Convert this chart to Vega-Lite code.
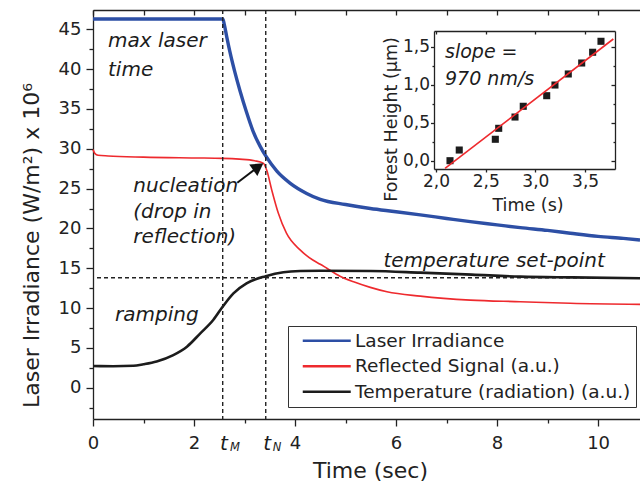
{
  "$schema": "https://vega.github.io/schema/vega-lite/v6.json",
  "width": 547,
  "height": 409,
  "autosize": {"type": "none"},
  "padding": {"left": 93, "top": 10, "right": 0, "bottom": 66},
  "background": "white",
  "config": {
    "font": "DejaVu Sans",
    "view": {"stroke": null},
    "axis": {
      "grid": false,
      "domainColor": "#222",
      "tickColor": "#222",
      "labelColor": "#222",
      "titleColor": "#222",
      "domainWidth": 1.3,
      "tickWidth": 1.3,
      "titleFontWeight": "normal",
      "labelFlush": false,
      "labelOverlap": false,
      "labelFont": "DejaVu Sans",
      "titleFont": "DejaVu Sans"
    },
    "text": {"font": "DejaVu Sans"}
  },
  "datasets": {
    "series": [
      {"t": 0, "v": 29.9, "s": "Reflected Signal (a.u.)"},
      {"t": 0.04, "v": 29.4, "s": "Reflected Signal (a.u.)"},
      {"t": 0.1, "v": 29.2, "s": "Reflected Signal (a.u.)"},
      {"t": 0.3, "v": 29.1, "s": "Reflected Signal (a.u.)"},
      {"t": 1.0, "v": 28.95, "s": "Reflected Signal (a.u.)"},
      {"t": 2.0, "v": 28.85, "s": "Reflected Signal (a.u.)"},
      {"t": 2.57, "v": 28.8, "s": "Reflected Signal (a.u.)"},
      {"t": 2.9, "v": 28.7, "s": "Reflected Signal (a.u.)"},
      {"t": 3.2, "v": 28.5, "s": "Reflected Signal (a.u.)"},
      {"t": 3.37, "v": 28.2, "s": "Reflected Signal (a.u.)"},
      {"t": 3.44, "v": 27.3, "s": "Reflected Signal (a.u.)"},
      {"t": 3.54, "v": 24.8, "s": "Reflected Signal (a.u.)"},
      {"t": 3.67, "v": 21.9, "s": "Reflected Signal (a.u.)"},
      {"t": 3.83, "v": 19.4, "s": "Reflected Signal (a.u.)"},
      {"t": 4.1, "v": 17.3, "s": "Reflected Signal (a.u.)"},
      {"t": 4.36, "v": 16.0, "s": "Reflected Signal (a.u.)"},
      {"t": 4.5, "v": 15.5, "s": "Reflected Signal (a.u.)"},
      {"t": 4.63, "v": 15.0, "s": "Reflected Signal (a.u.)"},
      {"t": 4.89, "v": 14.0, "s": "Reflected Signal (a.u.)"},
      {"t": 5.16, "v": 13.3, "s": "Reflected Signal (a.u.)"},
      {"t": 5.49, "v": 12.6, "s": "Reflected Signal (a.u.)"},
      {"t": 5.82, "v": 12.05, "s": "Reflected Signal (a.u.)"},
      {"t": 6.48, "v": 11.5, "s": "Reflected Signal (a.u.)"},
      {"t": 7.47, "v": 11.0, "s": "Reflected Signal (a.u.)"},
      {"t": 8.46, "v": 10.8, "s": "Reflected Signal (a.u.)"},
      {"t": 9.45, "v": 10.6, "s": "Reflected Signal (a.u.)"},
      {"t": 10.83, "v": 10.47, "s": "Reflected Signal (a.u.)"},
      {"t": 0, "v": 2.72, "s": "Temperature (radiation) (a.u.)"},
      {"t": 0.4, "v": 2.7, "s": "Temperature (radiation) (a.u.)"},
      {"t": 0.8, "v": 2.75, "s": "Temperature (radiation) (a.u.)"},
      {"t": 1.0, "v": 2.95, "s": "Temperature (radiation) (a.u.)"},
      {"t": 1.26, "v": 3.3, "s": "Temperature (radiation) (a.u.)"},
      {"t": 1.59, "v": 4.1, "s": "Temperature (radiation) (a.u.)"},
      {"t": 1.86, "v": 5.15, "s": "Temperature (radiation) (a.u.)"},
      {"t": 2.12, "v": 6.8, "s": "Temperature (radiation) (a.u.)"},
      {"t": 2.38, "v": 8.5, "s": "Temperature (radiation) (a.u.)"},
      {"t": 2.57, "v": 10.2, "s": "Temperature (radiation) (a.u.)"},
      {"t": 2.78, "v": 11.85, "s": "Temperature (radiation) (a.u.)"},
      {"t": 3.04, "v": 13.1, "s": "Temperature (radiation) (a.u.)"},
      {"t": 3.42, "v": 14.0, "s": "Temperature (radiation) (a.u.)"},
      {"t": 3.77, "v": 14.5, "s": "Temperature (radiation) (a.u.)"},
      {"t": 4.1, "v": 14.65, "s": "Temperature (radiation) (a.u.)"},
      {"t": 4.5, "v": 14.68, "s": "Temperature (radiation) (a.u.)"},
      {"t": 5.5, "v": 14.65, "s": "Temperature (radiation) (a.u.)"},
      {"t": 6.48, "v": 14.45, "s": "Temperature (radiation) (a.u.)"},
      {"t": 7.5, "v": 14.2, "s": "Temperature (radiation) (a.u.)"},
      {"t": 8.46, "v": 13.95, "s": "Temperature (radiation) (a.u.)"},
      {"t": 9.5, "v": 13.85, "s": "Temperature (radiation) (a.u.)"},
      {"t": 10.83, "v": 13.75, "s": "Temperature (radiation) (a.u.)"},
      {"t": 0, "v": 46.3, "s": "Laser Irradiance"},
      {"t": 2.57, "v": 46.3, "s": "Laser Irradiance"},
      {"t": 2.6, "v": 45.6, "s": "Laser Irradiance"},
      {"t": 2.65, "v": 44.0, "s": "Laser Irradiance"},
      {"t": 2.71, "v": 42.2, "s": "Laser Irradiance"},
      {"t": 2.81, "v": 39.6, "s": "Laser Irradiance"},
      {"t": 2.91, "v": 37.3, "s": "Laser Irradiance"},
      {"t": 3.04, "v": 34.6, "s": "Laser Irradiance"},
      {"t": 3.17, "v": 32.2, "s": "Laser Irradiance"},
      {"t": 3.31, "v": 30.3, "s": "Laser Irradiance"},
      {"t": 3.42, "v": 29.1, "s": "Laser Irradiance"},
      {"t": 3.64, "v": 27.2, "s": "Laser Irradiance"},
      {"t": 3.9, "v": 25.7, "s": "Laser Irradiance"},
      {"t": 4.23, "v": 24.4, "s": "Laser Irradiance"},
      {"t": 4.5, "v": 23.65, "s": "Laser Irradiance"},
      {"t": 5.0, "v": 23.0, "s": "Laser Irradiance"},
      {"t": 5.49, "v": 22.5, "s": "Laser Irradiance"},
      {"t": 6.0, "v": 22.1, "s": "Laser Irradiance"},
      {"t": 6.48, "v": 21.7, "s": "Laser Irradiance"},
      {"t": 7.0, "v": 21.25, "s": "Laser Irradiance"},
      {"t": 7.47, "v": 20.85, "s": "Laser Irradiance"},
      {"t": 8.0, "v": 20.45, "s": "Laser Irradiance"},
      {"t": 8.46, "v": 20.1, "s": "Laser Irradiance"},
      {"t": 9.0, "v": 19.75, "s": "Laser Irradiance"},
      {"t": 9.45, "v": 19.4, "s": "Laser Irradiance"},
      {"t": 10.0, "v": 19.0, "s": "Laser Irradiance"},
      {"t": 10.5, "v": 18.75, "s": "Laser Irradiance"},
      {"t": 10.83, "v": 18.55, "s": "Laser Irradiance"}
    ],
    "notes": [
      {"t": 0.297, "v": 42.82, "label": "max laser"},
      {"t": 0.297, "v": 39.14, "label": "time"},
      {"t": 0.798, "v": 24.61, "label": "nucleation"},
      {"t": 0.798, "v": 21.27, "label": "(drop in"},
      {"t": 0.798, "v": 18.13, "label": "reflection)"},
      {"t": 0.436, "v": 8.38, "label": "ramping"},
      {"t": 5.75, "v": 15.2, "label": "temperature set-point"}
    ],
    "arrow": [{"t": 2.857, "v": 25.74, "t2": 3.273, "v2": 27.74}],
    "arrowhead": [{"t": 3.273, "v": 27.74}],
    "tbig": [{"t": 2.515, "v": -7.82, "label": "t"}, {"t": 3.372, "v": -7.82, "label": "t"}],
    "tsub": [{"t": 2.713, "v": -8.0, "label": "M"}, {"t": 3.558, "v": -8.0, "label": "N"}],
    "setpoint": [{"v": 13.81}],
    "vlines": [{"t": 2.568}, {"t": 3.42}],
    "inset": [
      {"t": 2.141, "h": 0.004},
      {"t": 2.234, "h": 0.144},
      {"t": 2.597, "h": 0.285},
      {"t": 2.631, "h": 0.429},
      {"t": 2.795, "h": 0.577},
      {"t": 2.878, "h": 0.718},
      {"t": 3.114, "h": 0.857},
      {"t": 3.197, "h": 0.997},
      {"t": 3.331, "h": 1.142},
      {"t": 3.466, "h": 1.286},
      {"t": 3.576, "h": 1.427},
      {"t": 3.66, "h": 1.571}
    ],
    "fit": [{"t": 2.091, "h": -0.096}, {"t": 3.784, "h": 1.601}],
    "insetnotes": [
      {"t": 2.091, "h": 1.348, "label": "slope ="},
      {"t": 2.091, "h": 0.997, "label": "970 nm/s"}
    ]
  },
  "resolve": {
    "scale": {"x": "independent", "y": "independent"},
    "axis": {"x": "independent", "y": "independent"}
  },
  "layer": [
    {
      "data": {"name": "setpoint"},
      "mark": {"type": "rule", "strokeDash": [4, 3], "strokeWidth": 1.4, "color": "#222"},
      "encoding": {
        "y": {"field": "v", "type": "quantitative", "scale": {"domain": [-3.93, 47.43], "range": [409, 0], "nice": false, "zero": false}, "axis": null}
      }
    },
    {
      "encoding": {
        "x": {
          "field": "t", "type": "quantitative",
          "scale": {"domain": [0, 10.83], "range": [0, 547], "nice": false, "zero": false},
          "axis": {
            "orient": "bottom",
            "values": [0, 1, 2, 3, 4, 5, 6, 7, 8, 9, 10],
            "labelExpr": "datum.value % 2 === 0 ? datum.label : ''",
            "tickSize": {"condition": {"test": "datum.value % 2 === 0", "value": 7}, "value": 4},
            "labelPadding": 8,
            "labelFontSize": 18,
            "title": "Time (sec)",
            "titleFontSize": 22,
            "titleX": 277,
            "titleY": 58,
            "titleBaseline": "alphabetic"
          }
        },
        "y": {
          "field": "v", "type": "quantitative",
          "scale": {"domain": [-3.93, 47.43], "range": [409, 0], "nice": false, "zero": false},
          "axis": {
            "orient": "left",
            "values": [-2.5, 0, 2.5, 5, 7.5, 10, 12.5, 15, 17.5, 20, 22.5, 25, 27.5, 30, 32.5, 35, 37.5, 40, 42.5, 45],
            "labelExpr": "datum.value % 5 === 0 ? datum.label : ''",
            "tickSize": {"condition": {"test": "datum.value % 5 === 0", "value": 7}, "value": 4},
            "labelPadding": 5,
            "labelFontSize": 18,
            "title": "Laser Irradiance (W/m²) x 10⁶",
            "titleFontSize": 22,
            "titleX": -62,
            "titleY": 235,
            "titleBaseline": "middle"
          }
        }
      },
      "layer": [
        {
          "data": {"name": "series"},
          "mark": {"type": "line", "interpolate": "monotone"},
          "encoding": {
            "color": {
              "field": "s", "type": "nominal",
              "scale": {
                "domain": ["Laser Irradiance", "Reflected Signal (a.u.)", "Temperature (radiation) (a.u.)"],
                "range": ["#2d4fa5", "#ee2a2e", "#1c1c1c"]
              },
              "legend": {
                "orient": "none",
                "legendX": 195,
                "legendY": 316,
                "title": null,
                "symbolType": "M0,0H9.6",
                "symbolSize": 100,
                "symbolStrokeWidth": 2.5,
                "labelFontSize": 18.5,
                "labelColor": "#222",
                "labelOffset": 43,
                "labelLimit": 400,
                "padding": 5.5,
                "rowPadding": 6.5,
                "strokeColor": "#333",
                "fillColor": "white"
              }
            },
            "strokeWidth": {
              "condition": [
                {"test": "datum.s === 'Laser Irradiance'", "value": 3.4},
                {"test": "datum.s === 'Reflected Signal (a.u.)'", "value": 1.6}
              ],
              "value": 2.6
            }
          }
        },
        {
          "data": {"name": "notes"},
          "mark": {"type": "text", "fontStyle": "italic", "fontSize": 20, "align": "left", "baseline": "alphabetic", "color": "#1c1c1c"},
          "encoding": {"text": {"field": "label"}}
        },
        {
          "data": {"name": "arrow"},
          "mark": {"type": "rule", "strokeWidth": 2, "color": "#111"},
          "encoding": {"x2": {"field": "t2"}, "y2": {"field": "v2"}}
        },
        {
          "data": {"name": "arrowhead"},
          "mark": {"type": "point", "shape": "triangle-up", "filled": true, "size": 200, "angle": 55, "color": "#111", "opacity": 1}
        },
        {
          "data": {"name": "tbig"},
          "mark": {"type": "text", "fontStyle": "italic", "fontSize": 20, "align": "left", "baseline": "alphabetic", "color": "#1c1c1c"},
          "encoding": {"text": {"field": "label"}}
        },
        {
          "data": {"name": "tsub"},
          "mark": {"type": "text", "fontStyle": "italic", "fontSize": 11.5, "align": "left", "baseline": "alphabetic", "color": "#1c1c1c"},
          "encoding": {"text": {"field": "label"}}
        }
      ]
    },
    {
      "data": {"name": "vlines"},
      "mark": {"type": "rule", "strokeDash": [4, 3], "strokeWidth": 1.4, "color": "#222"},
      "encoding": {
        "x": {
          "field": "t", "type": "quantitative",
          "scale": {"domain": [0, 10.83], "range": [0, 547], "nice": false, "zero": false},
          "axis": {"orient": "top", "values": [0, 1, 2, 3, 4, 5, 6, 7, 8, 9, 10], "tickSize": -5, "labels": false, "title": null}
        }
      }
    },
    {
      "data": {"name": "inset"},
      "mark": {"type": "point", "shape": "square", "filled": true, "size": 50, "color": "#1c1c1c", "opacity": 1},
      "encoding": {
        "x": {
          "field": "t", "type": "quantitative",
          "scale": {"domain": [1.98, 3.801], "range": [341, 522], "nice": false, "zero": false},
          "axis": {
            "orient": "bottom",
            "offset": -250,
            "values": [2, 2.5, 3, 3.5],
            "labelExpr": "replace(format(datum.value, '.1f'), '.', ',')",
            "tickSize": 3,
            "labelPadding": 1,
            "labelFontSize": 17,
            "title": "Time (s)",
            "titleFontSize": 17.5,
            "titleX": 434.5,
            "titleY": 41.7,
            "titleBaseline": "alphabetic"
          }
        },
        "y": {
          "field": "h", "type": "quantitative",
          "scale": {"domain": [-0.105, 1.706], "range": [159, 21], "nice": false, "zero": false},
          "axis": {
            "orient": "left",
            "offset": -341,
            "values": [0, 0.25, 0.5, 0.75, 1, 1.25, 1.5],
            "labelExpr": "datum.value % 0.5 === 0 ? replace(format(datum.value, '.1f'), '.', ',') : ''",
            "tickSize": {"condition": {"test": "datum.value % 0.5 === 0", "value": 3.5}, "value": 2},
            "labelPadding": 1,
            "labelFontSize": 17,
            "title": "Forest Height (µm)",
            "titleFontSize": 17.5,
            "titleX": -42.3,
            "titleY": 109,
            "titleBaseline": "middle"
          }
        }
      }
    },
    {
      "data": {"name": "fit"},
      "mark": {"type": "line", "color": "#ee2a2e", "strokeWidth": 1.6},
      "encoding": {
        "x": {
          "field": "t", "type": "quantitative",
          "scale": {"domain": [1.98, 3.801], "range": [341, 522], "nice": false, "zero": false},
          "axis": {"orient": "top", "offset": -21, "values": [2, 2.5, 3, 3.5], "tickSize": -3, "labels": false, "title": null}
        },
        "y": {
          "field": "h", "type": "quantitative",
          "scale": {"domain": [-0.105, 1.706], "range": [159, 21], "nice": false, "zero": false},
          "axis": {"orient": "right", "offset": -25, "values": [0, 0.25, 0.5, 0.75, 1, 1.25, 1.5], "tickSize": {"condition": {"test": "datum.value % 0.5 === 0", "value": -4}, "value": -2}, "labels": false, "title": null}
        }
      }
    },
    {
      "data": {"name": "insetnotes"},
      "mark": {"type": "text", "fontStyle": "italic", "fontSize": 19, "align": "left", "baseline": "alphabetic", "color": "#1c1c1c"},
      "encoding": {
        "x": {"field": "t", "type": "quantitative", "scale": {"domain": [1.98, 3.801], "range": [341, 522], "nice": false, "zero": false}, "axis": null},
        "y": {"field": "h", "type": "quantitative", "scale": {"domain": [-0.105, 1.706], "range": [159, 21], "nice": false, "zero": false}, "axis": null},
        "text": {"field": "label"}
      }
    }
  ]
}
